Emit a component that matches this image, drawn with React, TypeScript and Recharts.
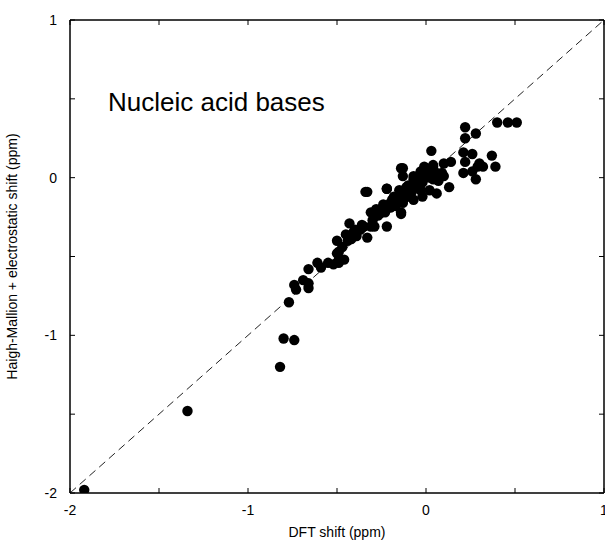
import React from "react";
import {
  ScatterChart,
  Scatter,
  XAxis,
  YAxis,
  ReferenceLine,
  ReferenceArea,
} from "recharts";

// DFT shift (ppm)
const dftShift = [
  -1.92, -1.34, -0.82, -0.8, -0.74, -0.77, -0.73, -0.74, -0.69, -0.66, -0.66, -0.66,
  -0.61, -0.59, -0.55, -0.5, -0.5, -0.49, -0.46, -0.49, -0.52, -0.45, -0.42, -0.39,
  -0.49, -0.43, -0.33, -0.33, -0.35, -0.31, -0.29, -0.26, -0.22, -0.22, -0.14, -0.14,
  -0.2, -0.16, -0.11, -0.05, 0.0, 0.04, -0.07, -0.03, -0.24, -0.28, -0.19, -0.11,
  -0.15, -0.41, -0.37, -0.3, -0.09, -0.13, -0.17, -0.03, -0.02, 0.02, 0.06, 0.4,
  0.46, 0.51, 0.22, 0.28, 0.22, 0.03, 0.21, 0.26, 0.22, 0.37, 0.39, 0.3, 0.29,
  0.32, 0.21, 0.26, 0.28, 0.14, 0.1, 0.13, 0.09, 0.07, 0.04, 0.03, -0.01, -0.03,
  -0.13, -0.07, 0.0, 0.04, -0.03, -0.09, 0.02, 0.06, -0.02, -0.07, -0.13, -0.34,
  -0.22, -0.14, -0.31, 0.1, -0.25, -0.2, -0.18, -0.12, -0.1, -0.05, -0.27, -0.23,
  -0.16, -0.08, -0.36, -0.4, -0.44, -0.47,
];

// Haigh-Mallion + electrostatic shift (ppm)
const hmShift = [
  -1.98, -1.48, -1.2, -1.02, -1.03, -0.79, -0.71, -0.68, -0.65, -0.67, -0.7, -0.58,
  -0.54, -0.57, -0.54, -0.4, -0.48, -0.52, -0.52, -0.54, -0.55, -0.36, -0.39, -0.37,
  -0.47, -0.29, -0.09, -0.38, -0.31, -0.22, -0.31, -0.23, -0.31, -0.07, 0.06, -0.23,
  -0.16, -0.12, -0.1, -0.06, 0.06, 0.07, -0.01, 0.01, -0.17, -0.2, -0.14, -0.06,
  -0.08, -0.35, -0.33, -0.27, -0.12, -0.16, -0.18, -0.08, -0.03, 0.0, 0.03, 0.35,
  0.35, 0.35, 0.32, 0.28, 0.25, 0.17, 0.16, 0.15, 0.1, 0.14, 0.07, 0.09, 0.07,
  0.07, 0.03, 0.04, -0.01, 0.1, 0.09, -0.06, 0.03, -0.02, 0.08, 0.05, 0.07, 0.04,
  0.01, 0.01, 0.01, -0.01, -0.04, -0.08, -0.08, -0.1, -0.12, -0.14, 0.06, -0.09,
  -0.07, -0.22, -0.31, 0.01, -0.2, -0.19, -0.12, -0.13, -0.05, -0.02, -0.24, -0.22,
  -0.15, -0.09, -0.3, -0.33, -0.4, -0.44,
];

const tickValues = [-2, -1.5, -1, -0.5, 0, 0.5, 1];
const axisDomain = [-2, 1];

const points = dftShift.map((x, i) => ({ x, y: hmShift[i] }));

const FONT = "'Liberation Sans', Arial, Helvetica, sans-serif";

const fmt = (v: number) => (v < 0 ? "-" + Math.abs(v) : String(v));

const BottomTick = (props: any) => {
  const { x, y, payload } = props;
  const v = payload.value;
  return (
    <g>
      <line x1={x} x2={x} y1={y} y2={y - 5} stroke="#000" strokeWidth={1} />
      {Number.isInteger(v) && (
        <text x={x} y={y + 22} textAnchor="middle" fontSize={14} fontFamily={FONT} fill="#000">
          {fmt(v)}
        </text>
      )}
    </g>
  );
};

const TopTick = (props: any) => {
  const { x, y } = props;
  return <line x1={x} x2={x} y1={y} y2={y + 5} stroke="#000" strokeWidth={1} />;
};

const LeftTick = (props: any) => {
  const { x, y, payload } = props;
  const v = payload.value;
  return (
    <g>
      <line x1={x} x2={x + 5} y1={y} y2={y} stroke="#000" strokeWidth={1} />
      {Number.isInteger(v) && (
        <text x={x - 13} y={y + 5} textAnchor="end" fontSize={14} fontFamily={FONT} fill="#000">
          {fmt(v)}
        </text>
      )}
    </g>
  );
};

const RightTick = (props: any) => {
  const { x, y } = props;
  return <line x1={x} x2={x - 5} y1={y} y2={y} stroke="#000" strokeWidth={1} />;
};

const Dot = (props: any) => {
  const { cx, cy } = props;
  return <circle cx={cx} cy={cy} r={5.2} fill="#000" />;
};

const NoDot = () => <g />;

const YLabel = (props: any) => {
  const { viewBox } = props;
  const cx = viewBox.x + 12;
  const cy = viewBox.y + viewBox.height / 2;
  return (
    <text
      x={cx}
      y={cy}
      transform={`rotate(-90, ${cx}, ${cy})`}
      textAnchor="middle"
      dominantBaseline="central"
      fontSize={14}
      fontFamily={FONT}
      fill="#000"
    >
      Haigh-Mallion + electrostatic shift (ppm)
    </text>
  );
};

const XLabel = (props: any) => {
  const { viewBox } = props;
  const cx = viewBox.x + viewBox.width / 2;
  return (
    <text x={cx} y={viewBox.y + 44} textAnchor="middle" fontSize={14} fontFamily={FONT} fill="#000">
      DFT shift (ppm)
    </text>
  );
};

export default function App() {
  return (
    <div style={{ position: "absolute", left: 0, top: 0, width: 605, height: 542, background: "#fff" }}>
      <ScatterChart
        width={605}
        height={542}
        margin={{ top: 19, right: 0, bottom: 0, left: 0 }}
      >
        <XAxis
          xAxisId="b"
          dataKey="x"
          type="number"
          domain={axisDomain}
          ticks={tickValues}
          allowDataOverflow
          height={49}
          tickSize={0}
          tickMargin={0}
          tickLine={false}
          axisLine={{ stroke: "#000" }}
          tick={<BottomTick />}
          interval={0}
          label={<XLabel />}
        />
        <XAxis
          xAxisId="t"
          dataKey="x"
          orientation="top"
          type="number"
          domain={axisDomain}
          ticks={tickValues}
          allowDataOverflow
          height={1}
          tickSize={0}
          tickMargin={0}
          tickLine={false}
          axisLine={{ stroke: "#000" }}
          tick={<TopTick />}
          interval={0}
        />
        <YAxis
          yAxisId="l"
          dataKey="y"
          type="number"
          domain={axisDomain}
          ticks={tickValues}
          allowDataOverflow
          width={70}
          tickSize={0}
          tickMargin={0}
          tickLine={false}
          axisLine={{ stroke: "#000" }}
          tick={<LeftTick />}
          interval={0}
          label={<YLabel />}
        />
        <YAxis
          yAxisId="r"
          dataKey="y"
          orientation="right"
          type="number"
          domain={axisDomain}
          ticks={tickValues}
          allowDataOverflow
          width={1}
          tickSize={0}
          tickMargin={0}
          tickLine={false}
          axisLine={{ stroke: "#000" }}
          tick={<RightTick />}
          interval={0}
        />
        <ReferenceArea
          xAxisId="b"
          yAxisId="l"
          x1={-2}
          x2={1}
          y1={-2}
          y2={1}
          fill="none"
          fillOpacity={0}
          stroke="#000"
          strokeWidth={1}
          ifOverflow="visible"
        />
        <ReferenceLine
          xAxisId="b"
          yAxisId="l"
          segment={[
            { x: -2, y: -2 },
            { x: 1, y: 1 },
          ]}
          stroke="#222"
          strokeWidth={1}
          strokeDasharray="8 5"
        />
        <Scatter
          xAxisId="t"
          yAxisId="r"
          data={points}
          shape={<NoDot />}
          isAnimationActive={false}
        />
        <Scatter
          xAxisId="b"
          yAxisId="l"
          data={points}
          shape={<Dot />}
          isAnimationActive={false}
        />
      </ScatterChart>
      <div
        style={{
          position: "absolute",
          left: 108,
          top: 89,
          fontSize: 26,
          lineHeight: "26px",
          fontFamily: FONT,
          color: "#000",
          whiteSpace: "nowrap",
        }}
      >
        Nucleic acid bases
      </div>
    </div>
  );
}
